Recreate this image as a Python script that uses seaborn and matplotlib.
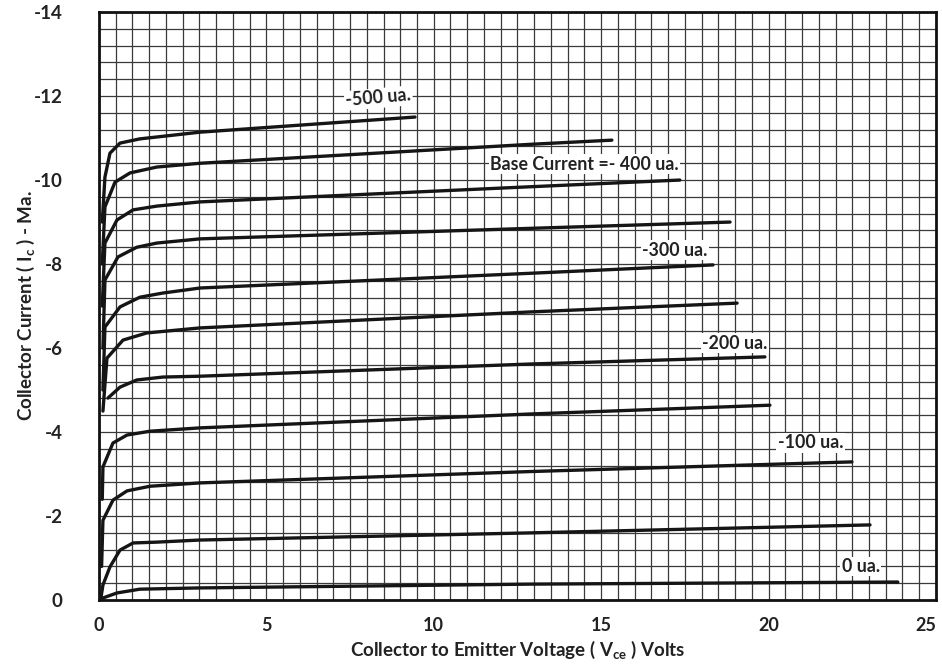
import numpy as np
import pandas as pd
import seaborn as sns
import matplotlib
matplotlib.use("Agg")
import matplotlib.pyplot as plt
from matplotlib.ticker import MultipleLocator

# --- data (Vce in volts, Ic in mA) ---
base_currents = [-500, -450, -400, -350, -300, -250, -200, -150, -100, -50, 0]

vce_c1 = [0.10, 0.18, 0.33, 0.63, 1.22, 3.02, 9.44]
ic_c1 = [-9.0, -10.07, -10.64, -10.88, -10.98, -11.14, -11.50]

vce_c2 = [0.10, 0.18, 0.48, 0.93, 1.73, 3.02, 12.87, 15.32]
ic_c2 = [-8.0, -9.36, -9.95, -10.17, -10.31, -10.40, -10.85, -10.95]

vce_c3 = [0.10, 0.18, 0.54, 1.02, 1.73, 3.02, 12.87, 17.35]
ic_c3 = [-7.0, -8.50, -9.05, -9.29, -9.38, -9.48, -9.84, -10.00]

vce_c4 = [0.12, 0.18, 0.57, 1.13, 1.73, 3.02, 12.87, 18.85]
ic_c4 = [-6.0, -7.62, -8.17, -8.40, -8.50, -8.60, -8.85, -9.00]

vce_c5 = [0.12, 0.18, 0.63, 1.22, 1.91, 3.02, 12.87, 18.34]
ic_c5 = [-5.0, -6.50, -6.98, -7.21, -7.31, -7.43, -7.78, -7.98]

vce_c6 = [0.12, 0.24, 0.72, 1.43, 3.02, 12.87, 19.06]
ic_c6 = [-4.5, -5.76, -6.19, -6.36, -6.48, -6.86, -7.07]

vce_c7 = [0.27, 0.63, 1.13, 1.91, 3.02, 12.87, 19.89]
ic_c7 = [-4.81, -5.07, -5.24, -5.31, -5.33, -5.62, -5.79]

vce_c8 = [0.10, 0.12, 0.42, 0.84, 1.52, 3.02, 12.87, 20.04]
ic_c8 = [-2.4, -3.17, -3.74, -3.93, -4.02, -4.10, -4.43, -4.64]

vce_c9 = [0.08, 0.12, 0.42, 0.84, 1.52, 3.02, 12.87, 22.49]
ic_c9 = [-0.8, -1.90, -2.38, -2.60, -2.71, -2.79, -3.06, -3.29]

vce_c10 = [0.05, 0.12, 0.33, 0.63, 1.02, 1.73, 3.02, 12.87, 23.03]
ic_c10 = [0.0, -0.36, -0.79, -1.19, -1.36, -1.38, -1.43, -1.60, -1.79]

vce_c11 = [0.05, 0.12, 0.54, 1.22, 3.02, 12.87, 23.86]
ic_c11 = [0.0, -0.05, -0.17, -0.26, -0.29, -0.38, -0.43]

curves_vce = [vce_c1, vce_c2, vce_c3, vce_c4, vce_c5, vce_c6,
              vce_c7, vce_c8, vce_c9, vce_c10, vce_c11]
curves_ic = [ic_c1, ic_c2, ic_c3, ic_c4, ic_c5, ic_c6,
             ic_c7, ic_c8, ic_c9, ic_c10, ic_c11]

# curve labels (text, x, y, rotation)
label_texts = ["-500 ua.", "Base Current =- 400 ua.", "-300 ua.", "-200 ua.", "-100 ua.", "0 ua."]
label_x = [8.35, 14.5, 17.2, 19.0, 21.25, 22.75]
label_y = [-11.95, -10.38, -8.33, -6.12, -3.74, -0.80]
label_rot = [5, 0, 0, 0, 0, 0]

x_ticks = [0, 5, 10, 15, 20, 25]
x_ticklabels = ["0", "5", "10", "15", "20", "25"]
y_ticks = [0, -2, -4, -6, -8, -10, -12, -14]
y_ticklabels = ["0", "-2", "-4", "-6", "-8", "-10", "-12", "-14"]

# long form table for seaborn
rows = []
for ib, xs, ys in zip(base_currents, curves_vce, curves_ic):
    for xv, yv in zip(xs, ys):
        rows.append({"ib": ib, "vce": xv, "ic": yv})
df = pd.DataFrame(rows)

# --- plot ---
sns.set_style("white")
plt.rcParams["font.family"] = ["Lato", "DejaVu Sans"]
plt.rcParams["mathtext.default"] = "regular"

fig = plt.figure(figsize=(9.42, 6.69), dpi=100)
ax = fig.add_axes([0.105, 0.103, 0.8886, 0.879])

sns.lineplot(data=df, x="vce", y="ic", units="ib", estimator=None, sort=False,
             color="#151515", linewidth=2.4, ax=ax, zorder=3)
for ln in ax.get_lines():
    ln.set_solid_joinstyle("round")
    ln.set_solid_capstyle("round")

ax.set_xlim(0, 25)
ax.set_ylim(0, -14)

ax.xaxis.set_minor_locator(MultipleLocator(0.5))
ax.yaxis.set_minor_locator(MultipleLocator(0.4))
ax.set_xticks(x_ticks)
ax.set_xticklabels(x_ticklabels, fontsize=13, fontweight="bold", color="#222222")
ax.get_xticklabels()[-1].set_horizontalalignment("right")
ax.set_yticks(y_ticks)
ax.set_yticklabels(y_ticklabels, fontsize=13.5, fontweight="bold", color="#222222")
ax.tick_params(axis="both", which="both", length=0)
ax.tick_params(axis="x", pad=12)
ax.tick_params(axis="y", pad=26)

ax.grid(True, which="both", color="#3a3a3a", linewidth=0.9)
ax.set_axisbelow(True)
for s in ax.spines.values():
    s.set_color("#111111")
    s.set_linewidth(2.0)

for t, xv, yv, r in zip(label_texts, label_x, label_y, label_rot):
    ax.text(xv, yv, t, fontsize=12.8, fontweight="bold", color="#222222",
            ha="center", va="center", rotation=r, zorder=4,
            bbox=dict(facecolor="white", edgecolor="none", pad=1.0))

ax.set_xlabel("Collector to Emitter Voltage ( V$_{ce}$ ) Volts", fontsize=13.5,
              fontweight="bold", color="#222222", labelpad=4)
ax.set_ylabel("Collector Current ( I$_c$ ) - Ma.", fontsize=13.5,
              fontweight="bold", color="#222222", labelpad=-2)

fig.savefig("out.png", dpi=100, facecolor="white")
